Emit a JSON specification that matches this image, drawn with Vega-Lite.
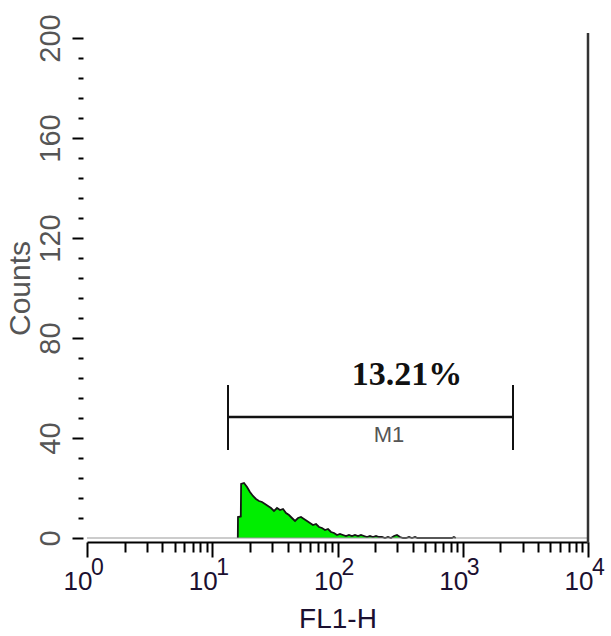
{
  "$schema": "https://vega.github.io/schema/vega-lite/v6.json",
  "width": 501,
  "height": 500,
  "autosize": "none",
  "padding": {"left": 87, "top": 38, "right": 23, "bottom": 98},
  "background": "white",
  "config": {"view": {"stroke": null}, "axis": {"labelOverlap": false, "labelFlush": false, "grid": false}},
  "resolve": {"axis": {"x": "independent", "y": "independent"}},
  "datasets": {
    "hist": [
      {"v": 16.0, "c": 0}, {"v": 16.05, "c": 8.4}, {"v": 16.9, "c": 8.6}, {"v": 17.0, "c": 21.6},
      {"v": 17.93, "c": 22}, {"v": 18.95, "c": 20.4}, {"v": 20.0, "c": 18.4}, {"v": 21.15, "c": 16.8},
      {"v": 22.35, "c": 15.6}, {"v": 23.62, "c": 14.8}, {"v": 24.96, "c": 14.4}, {"v": 26.38, "c": 13.6},
      {"v": 27.87, "c": 12.8}, {"v": 29.45, "c": 12}, {"v": 31.12, "c": 10.8}, {"v": 32.89, "c": 12},
      {"v": 34.75, "c": 11.2}, {"v": 36.73, "c": 11.6}, {"v": 38.81, "c": 10}, {"v": 41.0, "c": 9.2},
      {"v": 43.3, "c": 8}, {"v": 45.8, "c": 6.8}, {"v": 48.4, "c": 8}, {"v": 51.1, "c": 8.4},
      {"v": 54.0, "c": 7.6}, {"v": 57.1, "c": 6.8}, {"v": 60.3, "c": 6}, {"v": 63.7, "c": 5.2},
      {"v": 67.4, "c": 5.6}, {"v": 71.2, "c": 4.4}, {"v": 75.2, "c": 4}, {"v": 79.5, "c": 3.2},
      {"v": 84.0, "c": 3.6}, {"v": 88.7, "c": 2.4}, {"v": 93.8, "c": 2}, {"v": 99.1, "c": 1.2},
      {"v": 104.7, "c": 1.6}, {"v": 110.6, "c": 1.2}, {"v": 116.9, "c": 0.8}, {"v": 123.5, "c": 1.2},
      {"v": 130.5, "c": 0.8}, {"v": 137.9, "c": 1.2}, {"v": 145.8, "c": 0.8}, {"v": 154, "c": 1.2},
      {"v": 162.8, "c": 0.8}, {"v": 172, "c": 0.4}, {"v": 181.7, "c": 0.8}, {"v": 192, "c": 0.4},
      {"v": 203, "c": 0.8}, {"v": 214.4, "c": 0.4}, {"v": 226.6, "c": 0.4}, {"v": 239.4, "c": 0},
      {"v": 253, "c": 0.4}, {"v": 267.3, "c": 0}, {"v": 282.5, "c": 0.8}, {"v": 298.5, "c": 1.2},
      {"v": 315.5, "c": 0.4}, {"v": 333.4, "c": 0}, {"v": 352.3, "c": 0}, {"v": 372.3, "c": 0.4},
      {"v": 393.4, "c": 0}, {"v": 415.8, "c": 0.4}, {"v": 435, "c": 0}, {"v": 820, "c": 0},
      {"v": 850, "c": 0.4}, {"v": 880, "c": 0}
    ],
    "gate": [{"x1": 13.36, "x2": 2518, "y": 48.4, "pct": "13.21%", "pctx": 359, "pcty": 61.2, "name": "M1", "namex": 258, "namey": 38.4}],
    "gateEnds": [{"x": 13.36, "ylo": 35.2, "yhi": 61.2}, {"x": 2518, "ylo": 35.2, "yhi": 61.2}],
    "decades": [{"v": 1, "e": "0"}, {"v": 10, "e": "1"}, {"v": 100, "e": "2"}, {"v": 1000, "e": "3"}, {"v": 10000, "e": "4"}]
  },
  "layer": [
    {
      "data": {"name": "hist"},
      "mark": {"type": "area", "color": "#00ee00", "opacity": 1, "fillOpacity": 1, "interpolate": "linear", "line": {"color": "#151515", "strokeWidth": 1.8}},
      "encoding": {
        "x": {
          "field": "v", "type": "quantitative",
          "scale": {"type": "log", "domain": [1, 10000], "nice": false},
          "axis": {
            "title": "FL1-H",
            "titleFont": "Liberation Sans", "titleFontSize": 28, "titleFontWeight": "normal", "titleColor": "#1b1030",
            "titlePadding": 11,
            "values": [1,2,3,4,5,6,7,8,9,10,20,30,40,50,60,70,80,90,100,200,300,400,500,600,700,800,900,1000,2000,3000,4000,5000,6000,7000,8000,9000,10000],
            "labelExpr": "indexof([1,10,100,1000,10000], datum.value) >= 0 ? '10' : ''",
            "labelFont": "Liberation Sans", "labelFontSize": 26, "labelColor": "#1b1030",
            "labelAlign": "right", "labelOffset": 5, "labelBaseline": "alphabetic", "labelPadding": 32,
            "labelOverlap": false, "labelFlush": false,
            "offset": 4, "domainColor": "#000", "domainWidth": 2,
            "tickColor": "#000", "tickWidth": 2,
            "tickSize": {"condition": {"test": "indexof([1,10,100,1000,10000], datum.value) >= 0", "value": 15}, "value": 10},
            "grid": false
          }
        },
        "y": {
          "field": "c", "type": "quantitative",
          "scale": {"domain": [0, 200], "nice": false},
          "axis": {
            "title": "Counts",
            "titleFont": "Liberation Sans", "titleFontSize": 30, "titleFontWeight": "normal", "titleColor": "#555",
            "titlePadding": 1,
            "values": [0,8,16,24,32,40,48,56,64,72,80,88,96,104,112,120,128,136,144,152,160,168,176,184,192,200],
            "labelExpr": "indexof([0,40,80,120,160,200], datum.value) >= 0 ? datum.label : ''",
            "labelAngle": 270, "labelAlign": "center", "labelBaseline": "alphabetic",
            "labelFont": "Liberation Sans", "labelFontSize": 29, "labelColor": "#555", "labelPadding": 13,
            "labelOverlap": false, "labelFlush": false,
            "offset": 4, "domain": false,
            "tickColor": "#000", "tickWidth": 2,
            "tickSize": {"condition": {"test": "indexof([0,40,80,120,160,200], datum.value) >= 0", "value": 11}, "value": 5},
            "grid": false
          }
        }
      }
    },
    {
      "data": {"values": [{}]},
      "mark": {"type": "rule", "color": "#9a9a9a", "strokeWidth": 1.2},
      "encoding": {
        "x": {"datum": 1, "type": "quantitative", "axis": null},
        "x2": {"datum": 10000},
        "y": {"datum": 0, "type": "quantitative", "axis": null}
      }
    },
    {
      "data": {"values": [{}]},
      "mark": {"type": "rule", "color": "#333", "strokeWidth": 2.5},
      "encoding": {
        "x": {"datum": 10000, "type": "quantitative", "axis": null},
        "y": {"datum": -2, "type": "quantitative", "axis": null},
        "y2": {"datum": 202}
      }
    },
    {
      "data": {"name": "gate"},
      "mark": {"type": "rule", "color": "#111", "strokeWidth": 2.5},
      "encoding": {
        "x": {"field": "x1", "type": "quantitative", "axis": null},
        "x2": {"field": "x2"},
        "y": {"field": "y", "type": "quantitative", "axis": null}
      }
    },
    {
      "data": {"name": "gateEnds"},
      "mark": {"type": "rule", "color": "#111", "strokeWidth": 2},
      "encoding": {
        "x": {"field": "x", "type": "quantitative", "axis": null},
        "y": {"field": "ylo", "type": "quantitative", "axis": null},
        "y2": {"field": "yhi"}
      }
    },
    {
      "data": {"name": "gate"},
      "mark": {"type": "text", "font": "Liberation Serif", "fontWeight": "bold", "fontSize": 34, "color": "#111", "align": "center", "baseline": "alphabetic"},
      "encoding": {
        "x": {"field": "pctx", "type": "quantitative", "axis": null},
        "y": {"field": "pcty", "type": "quantitative", "axis": null},
        "text": {"field": "pct"}
      }
    },
    {
      "data": {"name": "gate"},
      "mark": {"type": "text", "font": "Liberation Sans", "fontSize": 22, "color": "#555", "align": "center", "baseline": "alphabetic"},
      "encoding": {
        "x": {"field": "namex", "type": "quantitative", "axis": null},
        "y": {"field": "namey", "type": "quantitative", "axis": null},
        "text": {"field": "name"}
      }
    },
    {
      "data": {"name": "decades"},
      "mark": {"type": "text", "font": "Liberation Sans", "fontSize": 23, "color": "#1b1030", "align": "left", "baseline": "alphabetic", "dx": 4},
      "encoding": {
        "x": {"field": "v", "type": "quantitative", "axis": null},
        "y": {"datum": -14.8, "type": "quantitative", "axis": null},
        "text": {"field": "e"}
      }
    }
  ]
}
